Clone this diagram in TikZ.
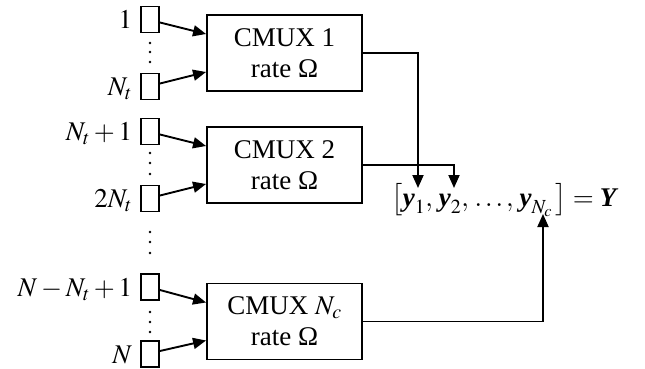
\documentclass[tikz,border=0pt]{standalone}
\usepackage{mathptmx}
\usepackage{fontspec}
\setmainfont{Liberation Serif}
\usetikzlibrary{arrows.meta}
\newcommand{\byy}{\mbox{\bfseries\itshape y}}
\newcommand{\bYY}{\mbox{\bfseries\itshape Y}}
\begin{document}
\begin{tikzpicture}[x=1pt,y=-1pt, line width=1.9pt, font=\fontsize{27}{31}\selectfont,
 ant/.style={draw, minimum width=18pt, minimum height=26pt, inner sep=0pt},
 cmux/.style={draw, minimum width=155pt, minimum height=76pt, align=center, inner sep=0pt},
 lbl/.style={anchor=base east, inner sep=0pt},
 arr/.style={-{Triangle[length=13pt,width=11pt]}},
 dotc/.style={circle, fill, inner sep=0pt, minimum size=2.8pt, draw=none}]
\useasboundingbox (0,0) rectangle (645,369);
% antennas
\node[ant] (s1) at (150,19.5) {};
\node[ant] (s2) at (150,86.5) {};
\node[ant] (s3) at (150,131.5) {};
\node[ant] (s4) at (150,198.5) {};
\node[ant] (s5) at (150,287) {};
\node[ant] (s6) at (150,354) {};
% labels
\node[lbl] (l1) at (133,28.5) {$1$};
\node[lbl] (l2) at (133,95.5) {$N_t$};
\node[lbl] (l3) at (133,140.5) {$N_t+1$};
\node[lbl] (l4) at (133,207.5) {$2N_t$};
\node[lbl] (l5) at (133,296) {$N-N_t+1$};
\node[lbl] (l6) at (133,363) {$N$};
% dots
\foreach \y [count=\i] in {43,52,62, 153,163,174, 232,242,253, 312,322,332}
  \node[dotc] (d\i) at (150,\y) {};
% CMUX boxes
\node[cmux] (c1) at (284.5,53) {CMUX 1\\rate Ω};
\node[cmux] (c2) at (284.5,165) {CMUX 2\\rate Ω};
\node[cmux] (c3) at (284.5,321.5) {CMUX $N_c$\\rate Ω};
% inputs
\draw[arr] ([yshift=-3pt]s1.east) -- ([yshift=19pt]c1.west);
\draw[arr] ([yshift=3pt]s2.east) -- ([yshift=-19pt]c1.west);
\draw[arr] ([yshift=-3pt]s3.east) -- ([yshift=19pt]c2.west);
\draw[arr] ([yshift=3pt]s4.east) -- ([yshift=-19pt]c2.west);
\draw[arr] ([yshift=-3pt]s5.east) -- ([yshift=19pt]c3.west);
\draw[arr] ([yshift=3pt]s6.east) -- ([yshift=-19pt]c3.west);
% output
\node (Y) at (504,200) {$\bigl[\byy_1,\,\byy_2,\,\ldots,\,\byy_{N_c}\,\bigr]=\bYY$};
\coordinate (t1) at (418,188);
\coordinate (t2) at (454,188);
\coordinate (t3) at (543,214);
\draw[arr] (c1.east) -| (t1);
\draw[arr] (c2.east) -| (t2);
\draw[arr] (c3.east) -| (t3);
\end{tikzpicture}
\end{document}
